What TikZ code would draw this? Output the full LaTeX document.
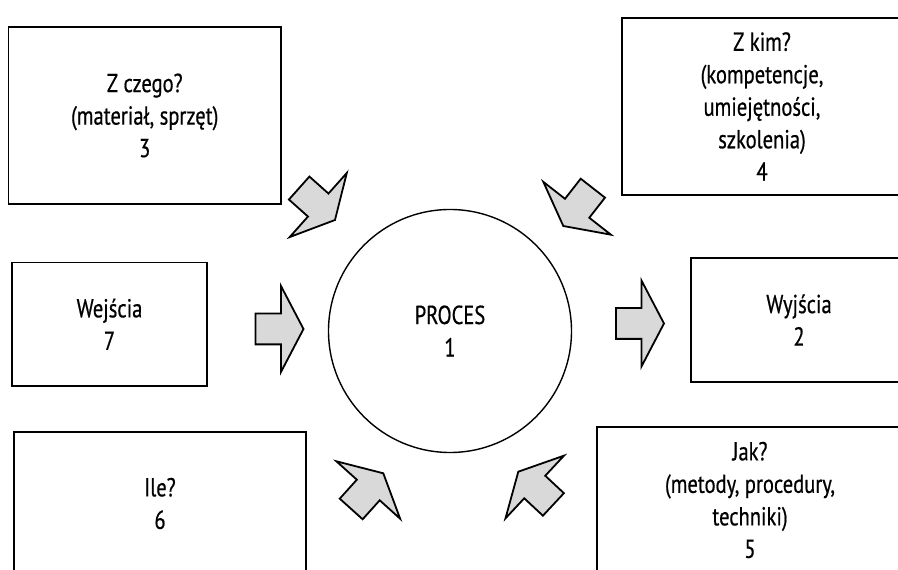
\documentclass[tikz,border=0pt]{standalone}
\usepackage{fontspec}
\setmainfont{PT Sans}[FakeStretch=0.79,FakeBold=0.6]
\usetikzlibrary{shapes.arrows}

\tikzset{
  box/.style={draw,line width=1.4pt,align=center,font=\fontsize{26}{32.5}\selectfont},
  blockarrow/.style={single arrow,draw,line width=1.8pt,fill=gray!30,
    inner xsep=0pt,inner ysep=14.5pt,outer sep=0pt,minimum height=48pt,
    single arrow head extend=27.5pt,single arrow tip angle=124.7,anchor=tip}
}

\begin{document}
\begin{tikzpicture}[x=1pt,y=1pt]
\useasboundingbox (0,0) rectangle (898,570);
\clip (0,0) rectangle (898,570);

% Process in the middle
\node[box,circle,minimum size=243pt] (proces) at (450,239) {PROCES\\1};

% Boxes around it
\node[box,minimum width=272.5pt,minimum height=177pt] (zczego) at (144.75,454.5) {Z czego?\\(materiał, sprzęt)\\3};
\node[box,minimum width=280pt,minimum height=177pt] (zkim) at (762,463.5) {Z kim?\\(kompetencje,\\umiejętności,\\szkolenia)\\4};
\node[box,minimum width=195pt,minimum height=123.5pt] (wejscia) at (109.5,245.75) {Wejścia\\7};
\node[box,minimum width=216pt,minimum height=124pt] (wyjscia) at (799,250) {Wyjścia\\2};
\node[box,minimum width=292pt,minimum height=143pt] (ile) at (160,66.5) {Ile?\\6};
\node[box,minimum width=306pt,minimum height=146pt] (jak) at (750,70) {Jak?\\(metody, procedury,\\techniki)\\5};

% Block arrows
\node[blockarrow] (a7) at (303.5,241) {};
\node[blockarrow] (a2) at (664,246.5) {};
\node[blockarrow,rotate=-41.7] (a3) at (335,350) {};
\node[blockarrow,rotate=232] (a4) at (563.3,344) {};
\node[blockarrow,rotate=48] (a6) at (383.3,96.7) {};
\node[blockarrow,rotate=137] (a5) at (518.3,98.3) {};
\end{tikzpicture}
\end{document}
